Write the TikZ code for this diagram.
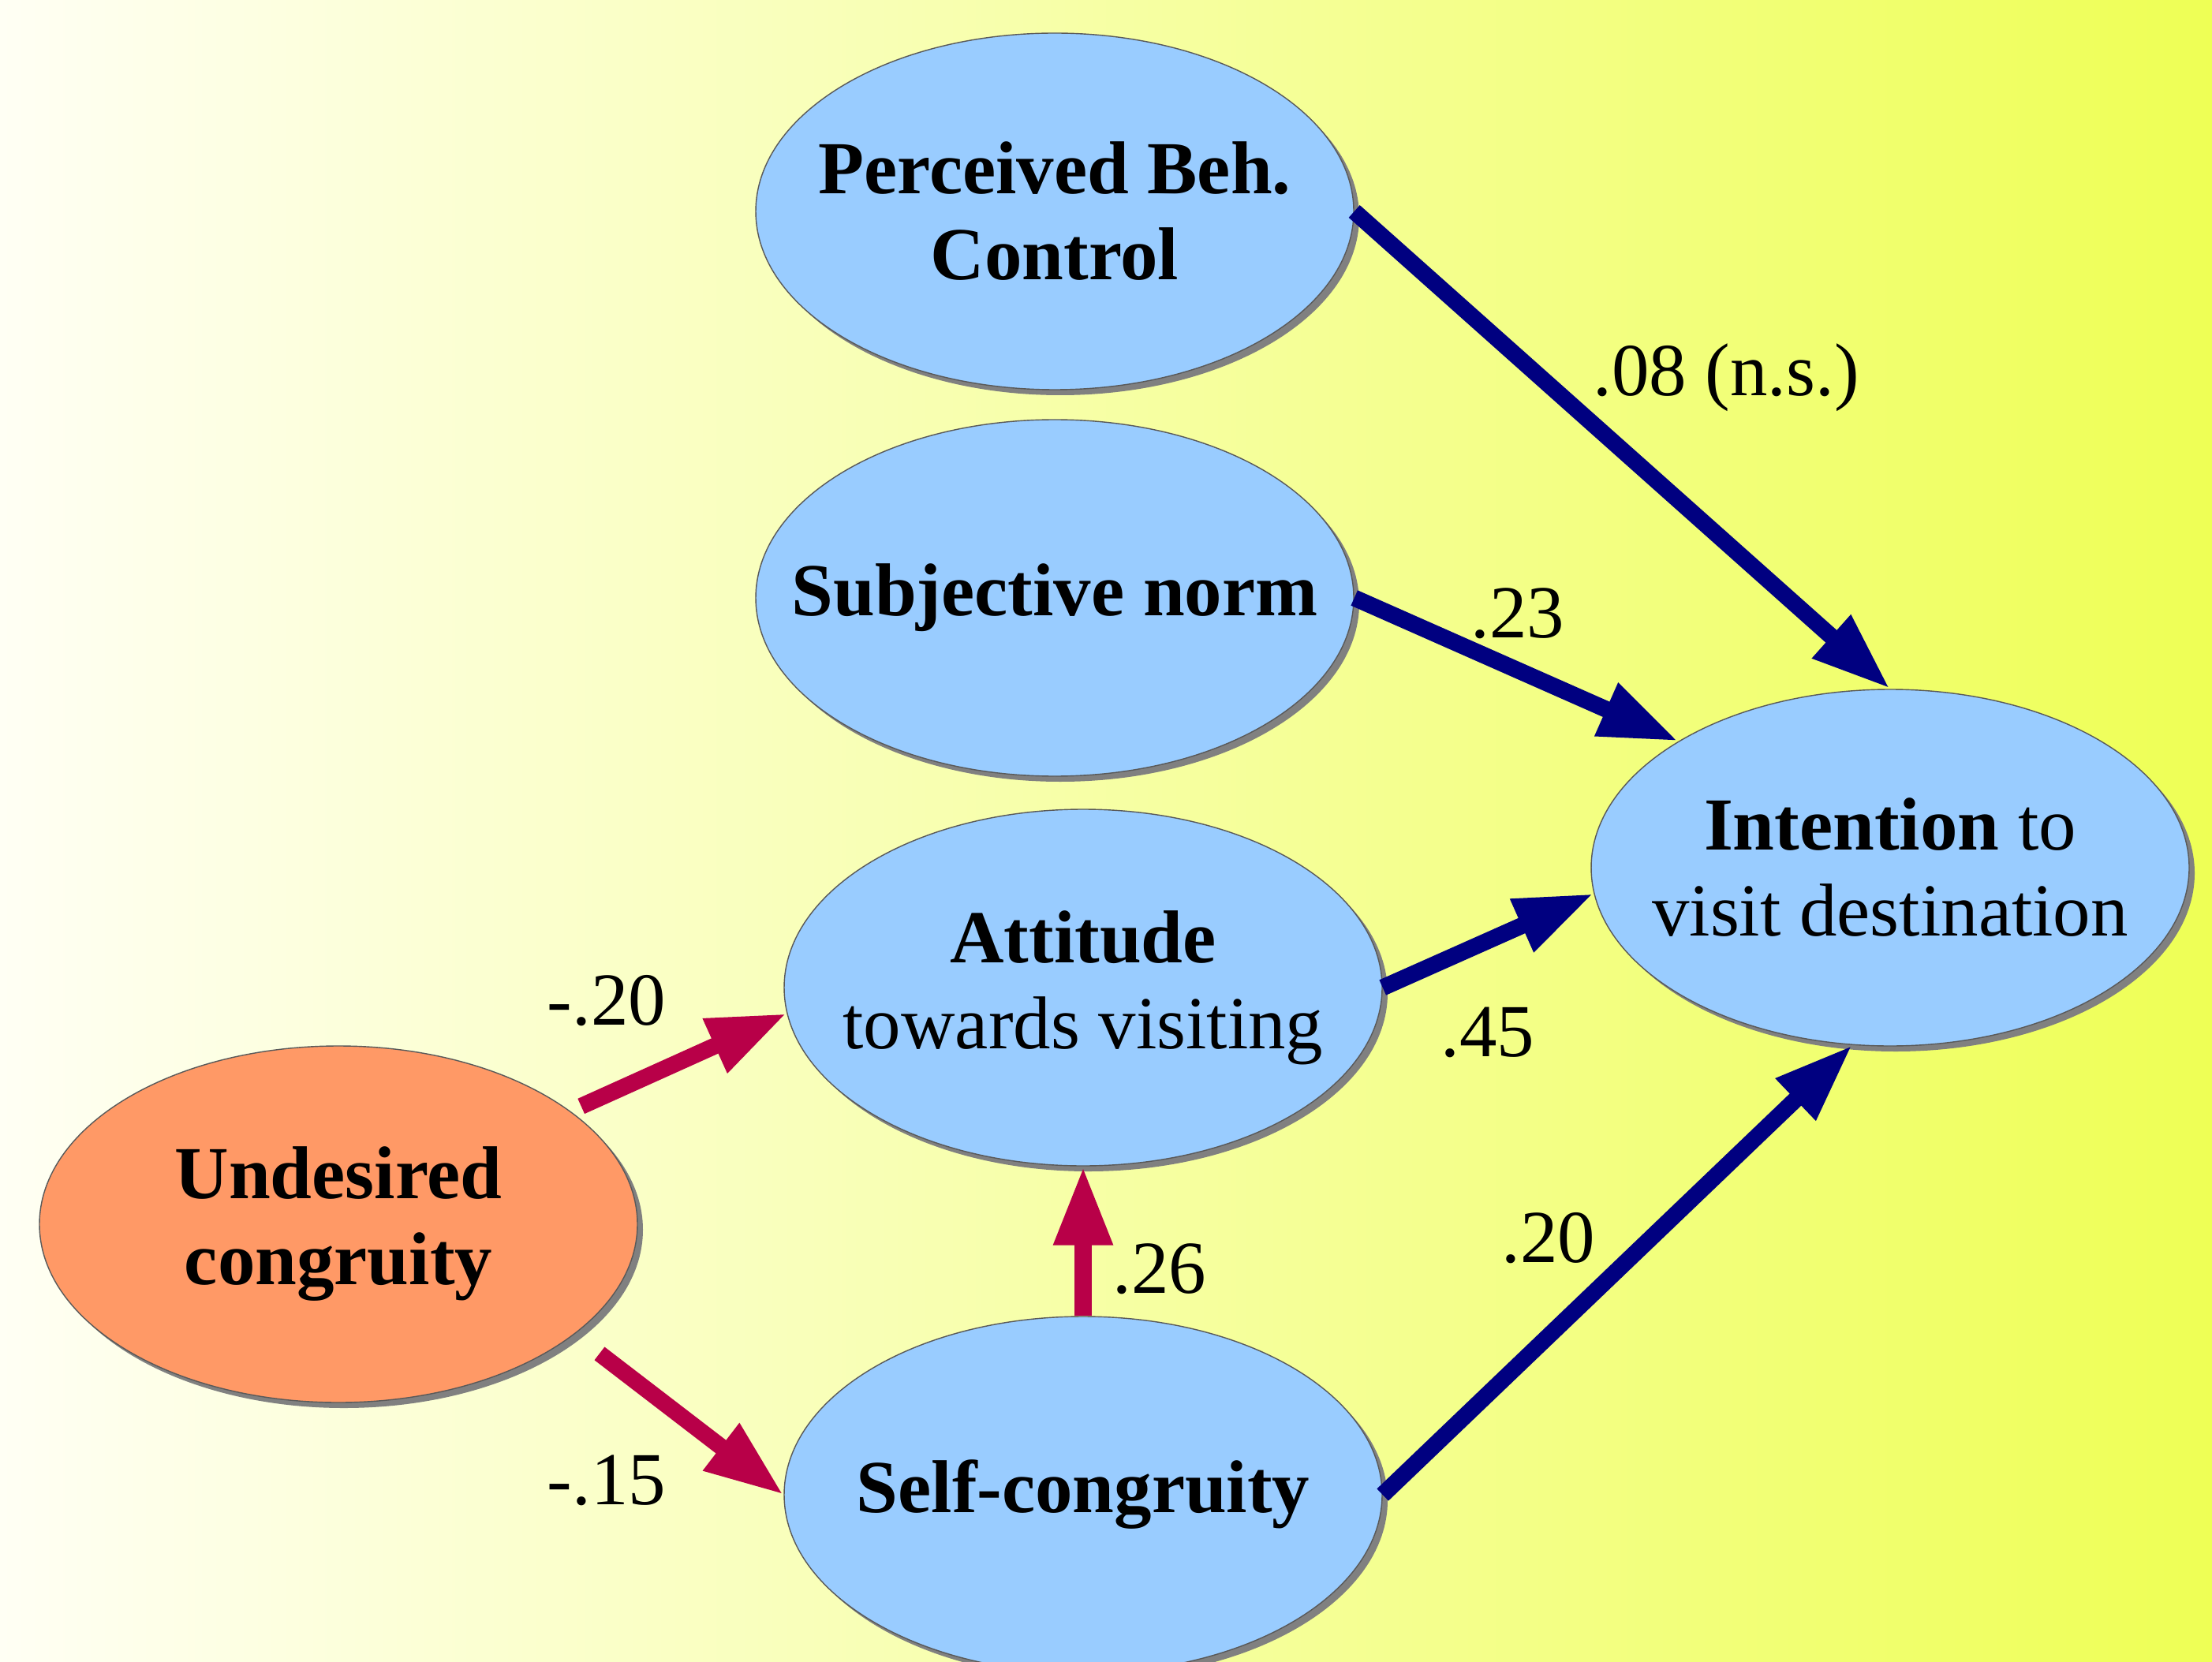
\documentclass[tikz,border=0pt]{standalone}
\usepackage{fontspec}
\setmainfont{Liberation Serif}
\usetikzlibrary{positioning, shapes.geometric, arrows.meta, shadows}

\definecolor{nodeblue}{RGB}{153,204,255}
\definecolor{nodeorange}{RGB}{255,153,102}
\definecolor{pathblue}{RGB}{0,0,128}
\definecolor{pathred}{RGB}{184,0,72}
\definecolor{bgleft}{RGB}{255,255,244}
\definecolor{bgright}{RGB}{238,255,85}

\begin{document}
\begin{tikzpicture}[
  construct/.style={ellipse, draw=black!65, thin, fill=nodeblue, minimum width=7.58cm, minimum height=4.52cm, inner xsep=-1cm, inner ysep=0pt, align=center, font=\fontsize{27}{31}\selectfont, drop shadow={shadow xshift=0.07cm, shadow yshift=-0.07cm, fill=black!50, opacity=1}},
  coef/.style={font=\fontsize{27}{31}\selectfont, inner sep=0pt},
  bluepath/.style={draw=pathblue, line width=6pt, -{Triangle[length=1cm, width=0.68cm]}},
  redpath/.style={draw=pathred, line width=6pt, -{Triangle[length=1cm, width=0.7cm]}}
]
\useasboundingbox (0,0) rectangle (28.04,21.06);
\shade[left color=bgleft, right color=bgright] (0,0) rectangle (28.04,21.06);

\node[construct] (pbc) at (13.37, 18.38) {\textbf{Perceived Beh.}\\\textbf{Control}};
\node[construct] (sn) at (13.37, 13.48) {\textbf{Subjective norm}};
\node[construct] (att) at (13.73, 8.54) {\textbf{Attitude}\\towards visiting};
\node[construct] (sc) at (13.73, 2.11) {\textbf{Self-congruity}};
\node[construct] (int) at (23.96, 10.06) {\textbf{Intention} to\\visit destination};
\node[construct, fill=nodeorange] (und) at (4.29, 5.54) {\textbf{Undesired}\\\textbf{congruity}};

\draw[bluepath] (pbc.east) -- (int.north);
\draw[bluepath] (sn.east) -- (int.north west);
\draw[bluepath] (att.east) -- (int.185);
\draw[bluepath] (sc.east) -- (int.258);
\draw[redpath, shorten <=0.15cm] (und.26) -- (att.185);
\draw[redpath, shorten <=0.4cm] (und.-25) -- (sc.west);
\draw[redpath] (sc.north) -- (att.south);

\node[coef] (c08) at (21.88, 16.27) {.08 (n.s.)};
\node[coef] (c23) at (19.24, 13.28) {.23};
\node[coef] (c45) at (18.86, 7.97) {.45};
\node[coef] (c20) at (19.63, 5.36) {.20};
\node[coef] (cm20) at (7.69, 8.37) {-.20};
\node[coef] (cm15) at (7.69, 2.29) {-.15};
\node[coef] (c26) at (14.70, 4.97) {.26};

\end{tikzpicture}
\end{document}
